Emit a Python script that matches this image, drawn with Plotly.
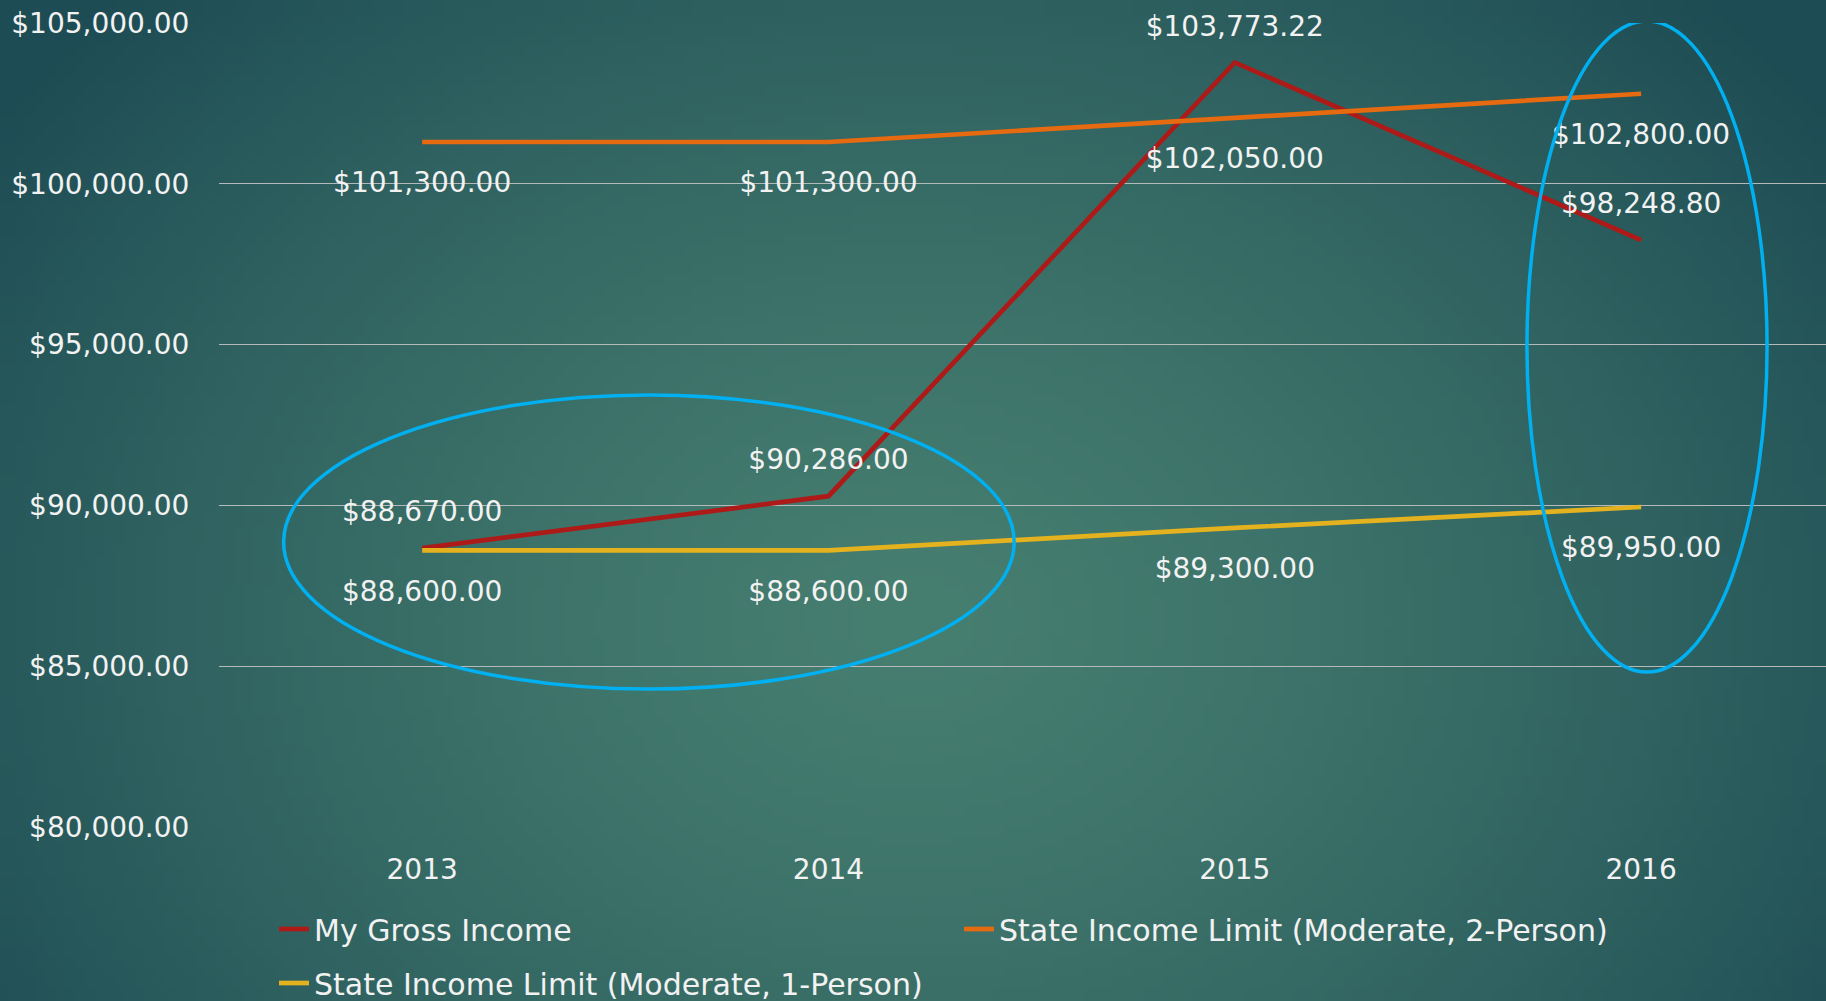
import base64, struct, zlib
import numpy as np
import plotly.graph_objects as go

# ---------------- data ----------------
years = ["2013", "2014", "2015", "2016"]
gross_income = [88670.00, 90286.00, 103773.22, 98248.80]
limit_2person = [101300.00, 101300.00, 102050.00, 102800.00]
limit_1person = [88600.00, 88600.00, 89300.00, 89950.00]
series_names = ["My Gross Income",
                "State Income Limit (Moderate, 2-Person)",
                "State Income Limit (Moderate, 1-Person)"]
y_ticks = [80000, 85000, 90000, 95000, 100000, 105000]

# ---------------- figure geometry ----------------
W, H = 1826, 1001
ML, MR, MT, MB = 219, 0, 23, 174
PW, PH = W - ML - MR, H - MT - MB
FONT = "DejaVu Sans"
FS = 28
TXT = "#F2F2F2"

# ---------------- radial background (PNG data URI) ----------------
def make_bg(w=183, h=100):
    xs = (np.arange(w) + 0.5) / w
    ys = (np.arange(h) + 0.5) / h
    u, v = np.meshgrid(xs, ys)
    r = np.sqrt(((u - 0.5) / 0.62) ** 2 + ((v - 0.62) / 0.9) ** 2)
    t = np.clip(r, 0, 1) ** 1.4
    c0 = np.array([70, 126, 112], float)
    c1 = np.array([29, 76, 84], float)
    img = (c0[None, None, :] * (1 - t[..., None]) + c1[None, None, :] * t[..., None]).astype(np.uint8)
    raw = b"".join(b"\x00" + img[i].tobytes() for i in range(h))

    def chunk(tag, data):
        return (struct.pack(">I", len(data)) + tag + data +
                struct.pack(">I", zlib.crc32(tag + data) & 0xffffffff))

    png = (b"\x89PNG\r\n\x1a\n" +
           chunk(b"IHDR", struct.pack(">IIBBBBB", w, h, 8, 2, 0, 0, 0)) +
           chunk(b"IDAT", zlib.compress(raw, 9)) + chunk(b"IEND", b""))
    return "data:image/png;base64," + base64.b64encode(png).decode()

fig = go.Figure()

colors = ["#AE1A17", "#E66A10", "#E4B21E"]
all_series = [gross_income, limit_2person, limit_1person]
legends = ["legend", "legend", "legend2"]
for name, vals, col, lg in zip(series_names, all_series, colors, legends):
    fig.add_trace(go.Scatter(x=years, y=vals, mode="lines", name=name,
                             line=dict(color=col, width=4.7),
                             legend=lg, hoverinfo="skip"))

# data labels (text traces with invisible markers to set the offset)
positions = ["top center", "bottom center", "bottom center"]
msizes = [30, 45, 45]
for vals, pos, ms in zip(all_series, positions, msizes):
    fig.add_trace(go.Scatter(x=years, y=vals, mode="markers+text",
                             text=[f"${v:,.2f}" for v in vals], textposition=pos,
                             marker=dict(size=ms, color="rgba(0,0,0,0)"),
                             textfont=dict(family=FONT, size=FS, color=TXT),
                             cliponaxis=False, showlegend=False, hoverinfo="skip"))

# highlight ellipses
shapes = [
    dict(type="circle", xref="x", yref="y", x0=-0.341, x1=1.457, y0=84288, y1=93435,
         line=dict(color="#00B0F0", width=3.5), fillcolor="rgba(0,0,0,0)", layer="above"),
    dict(type="circle", xref="x", yref="y", x0=2.719, x1=3.310, y0=84816, y1=105060,
         line=dict(color="#00B0F0", width=3.5), fillcolor="rgba(0,0,0,0)", layer="above"),
]

fig.update_layout(
    width=W, height=H,
    margin=dict(l=ML, r=MR, t=MT, b=MB, autoexpand=False),
    paper_bgcolor="#2A5F60",
    plot_bgcolor="rgba(0,0,0,0)",
    font=dict(family=FONT, size=FS, color=TXT),
    showlegend=True,
    shapes=shapes,
    images=[dict(source=make_bg(), xref="paper", yref="paper",
                 x=-ML / PW, y=1 + MT / PH, sizex=W / PW, sizey=H / PH,
                 xanchor="left", yanchor="top", sizing="stretch", layer="below")],
    xaxis=dict(type="category", range=[-0.5, 3.455], showgrid=False, zeroline=False,
               showline=False, ticks="outside", ticklen=17, tickcolor="rgba(0,0,0,0)",
               tickfont=dict(family=FONT, size=FS, color=TXT)),
    yaxis=dict(range=[80000, 105000], tickvals=y_ticks,
               ticktext=[f"${v:,.2f}" for v in y_ticks],
               showgrid=True, gridcolor="#B4B9B9", gridwidth=1.3, zeroline=False,
               showline=False, ticks="outside", ticklen=23, tickcolor="rgba(0,0,0,0)",
               tickfont=dict(family=FONT, size=FS, color=TXT)),
    legend=dict(orientation="h", x=(274 - ML) / PW, xanchor="left",
                y=1 - (929 - MT) / PH, yanchor="middle",
                entrywidth=640, entrywidthmode="pixels",
                bgcolor="rgba(0,0,0,0)", font=dict(family=FONT, size=30, color=TXT)),
    legend2=dict(orientation="h", x=(274 - ML) / PW, xanchor="left",
                 y=1 - (983 - MT) / PH, yanchor="middle",
                 bgcolor="rgba(0,0,0,0)", font=dict(family=FONT, size=30, color=TXT)),
)

fig.write_html("out.html", config={"displayModeBar": False},
               post_script="document.body.style.margin='0px';document.body.style.overflow='hidden';")
